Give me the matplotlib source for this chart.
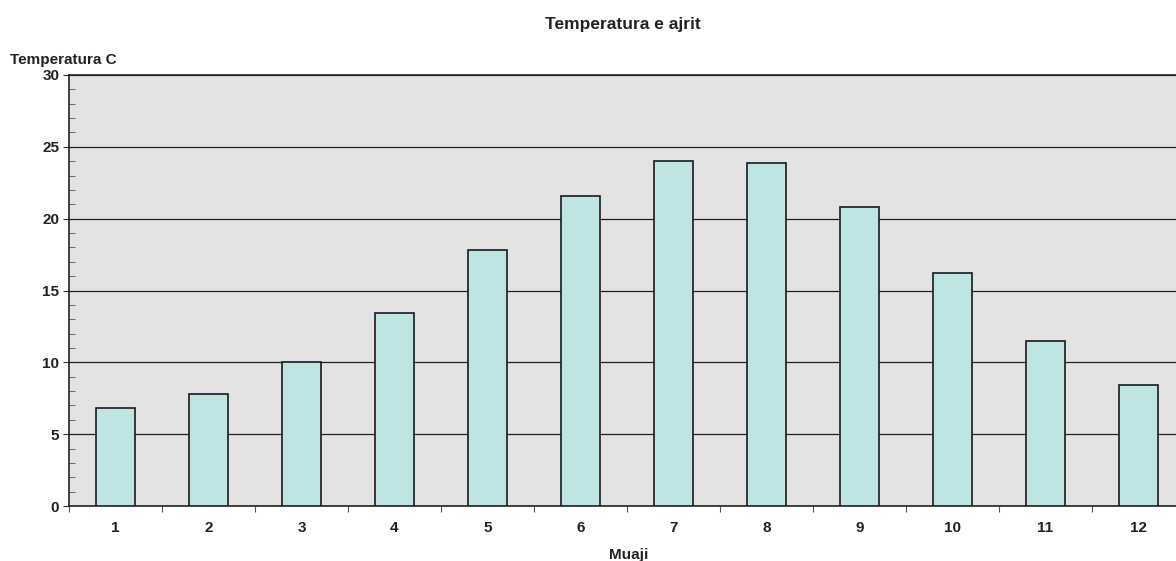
import numpy as np
import matplotlib.pyplot as plt
from matplotlib.ticker import MultipleLocator

plt.rcParams['font.family'] = ['Liberation Sans', 'DejaVu Sans']

months = ['1', '2', '3', '4', '5', '6', '7', '8', '9', '10', '11', '12']
temps = [6.8, 7.8, 10.0, 13.4, 17.8, 21.6, 24.0, 23.9, 20.8, 16.2, 11.5, 8.4]

W, H = 1176, 561
fig = plt.figure(figsize=(W / 100, H / 100), dpi=100)
left, right, top, bottom = 69, 1185, 75, 506
ax = fig.add_axes([left / W, 1 - bottom / H, (right - left) / W, (bottom - top) / H])
ax.set_facecolor('#e3e3e3')

x = np.arange(len(months))
ax.bar(x, temps, width=0.42, color='#bfe4e4', edgecolor='#1a1a1a', linewidth=1.2, zorder=3)

ax.set_xlim(-0.5, len(months) - 0.5)
ax.set_ylim(0, 30)
ax.yaxis.set_major_locator(MultipleLocator(5))
ax.yaxis.set_minor_locator(MultipleLocator(1))
ax.grid(axis='y', which='major', color='#222222', linewidth=0.9, zorder=1)

# category ticks on boundaries, labels in the middle
ax.set_xticks(np.arange(len(months) + 1) - 0.5)
ax.set_xticklabels([])
ax.set_xticks(x, minor=True)
ax.set_xticklabels(months, minor=True, fontsize=11, fontweight='bold', color='#222222')
ax.tick_params(axis='x', which='major', length=4, direction='out', color='#555555')
ax.tick_params(axis='x', which='minor', length=0, pad=11)
ax.tick_params(axis='y', which='major', length=4, direction='out', labelsize=11, color='#333333', pad=3)
ax.tick_params(axis='y', which='minor', length=4, direction='in', color='#555555')
for lab in ax.get_yticklabels():
    lab.set_fontweight('bold')
    lab.set_color('#222222')

for s in ['top', 'left', 'bottom']:
    ax.spines[s].set_color('#222222')
    ax.spines[s].set_linewidth(1.2)
ax.spines['right'].set_visible(False)

fig.text(623 / W, 1 - 24 / H, 'Temperatura e ajrit', ha='center', va='center',
         fontsize=12.5, fontweight='bold', color='#222222')
fig.text(10 / W, 1 - 60 / H, 'Temperatura C', ha='left', va='center',
         fontsize=11, fontweight='bold', color='#222222')
fig.text(629 / W, 1 - 555 / H, 'Muaji', ha='center', va='center',
         fontsize=11, fontweight='bold', color='#222222')

fig.savefig('out.png', dpi=100)
